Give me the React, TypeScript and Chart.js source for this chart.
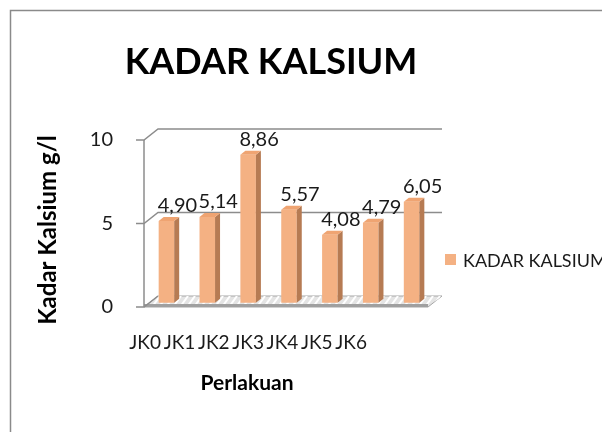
import React, { useEffect, useRef } from "react";
import { Chart, registerables } from "chart.js";

Chart.register(...registerables);

const categories = ["JK0", "JK1", "JK2", "JK3", "JK4", "JK5", "JK6"];
const kadarKalsium = [4.9, 5.14, 8.86, 5.57, 4.08, 4.79, 6.05];
const yTicks = [0, 5, 10];
const seriesName = "KADAR KALSIUM";
const chartTitle = "KADAR KALSIUM";
const xTitle = "Perlakuan";
const yTitle = "Kadar Kalsium g/l";

const FONT = "Lato, 'Open Sans', sans-serif";
const FRONT = "#F4B183";
const SIDE = "#B67B53";
const TOP = "#EFA472";
const GRID = "#8C8C8C";
const DX = 14;
const DY = -11;

const fmt = (v: number) => v.toFixed(2).replace(".", ",");

const threeD = {
  id: "threeD",
  beforeDraw(chart: any) {
    const { ctx, width, height } = chart;
    ctx.save();
    ctx.fillStyle = "#ffffff";
    ctx.fillRect(0, 0, width, height);
    ctx.strokeStyle = "#8a8a8a";
    ctx.lineWidth = 1.5;
    ctx.beginPath();
    ctx.moveTo(10.5, height);
    ctx.lineTo(10.5, 10.5);
    ctx.lineTo(width, 10.5);
    ctx.stroke();
    ctx.restore();
  },
  beforeDatasetsDraw(chart: any) {
    const { ctx, chartArea } = chart;
    const y = chart.scales.y;
    const x0 = chartArea.left - 2;
    const right = chartArea.right;
    const y0 = y.getPixelForValue(0);
    ctx.save();
    // floor
    ctx.beginPath();
    ctx.moveTo(x0, y0);
    ctx.lineTo(right - 4, y0);
    ctx.lineTo(right - 4 + DX, y0 + DY);
    ctx.lineTo(x0 + DX, y0 + DY);
    ctx.closePath();
    ctx.fillStyle = "#e4e4e4";
    ctx.fill();
    ctx.strokeStyle = "#a6a6a6";
    ctx.lineWidth = 1;
    ctx.stroke();
    ctx.save();
    ctx.clip();
    ctx.strokeStyle = "#ffffff";
    ctx.lineWidth = 2;
    for (let xx = x0 - 20; xx < right + 30; xx += 7) {
      ctx.beginPath();
      ctx.moveTo(xx, y0);
      ctx.lineTo(xx + 8, y0 + DY);
      ctx.stroke();
    }
    ctx.restore();
    ctx.fillStyle = "#a0a0a0";
    ctx.fillRect(x0, y0 - 3, right - 4 - x0, 3);
    // back wall gridlines
    ctx.strokeStyle = GRID;
    ctx.lineWidth = 1.5;
    for (const v of yTicks) {
      const py = y.getPixelForValue(v);
      ctx.beginPath();
      ctx.moveTo(x0 - 8, py);
      ctx.lineTo(x0, py);
      ctx.lineTo(x0 + DX, py + DY);
      if (v !== 0) ctx.lineTo(right + 10, py + DY);
      ctx.stroke();
    }
    ctx.beginPath();
    ctx.moveTo(x0, y.getPixelForValue(10));
    ctx.lineTo(x0, y0);
    ctx.stroke();
    ctx.restore();
  },
  afterDatasetsDraw(chart: any) {
    const { ctx } = chart;
    const meta = chart.getDatasetMeta(0);
    const data = chart.data.datasets[0].data as number[];
    ctx.save();
    meta.data.forEach((bar: any, i: number) => {
      const p = bar.getProps(["x", "y", "base", "width"], true);
      const l = p.x - p.width / 2;
      const r = p.x + p.width / 2;
      const sd = 5;
      const sh = 4;
      ctx.fillStyle = SIDE;
      ctx.beginPath();
      ctx.moveTo(r, p.y);
      ctx.lineTo(r + sd, p.y - sh);
      ctx.lineTo(r + sd, p.base - sh);
      ctx.lineTo(r, p.base);
      ctx.closePath();
      ctx.fill();
      ctx.fillStyle = TOP;
      ctx.beginPath();
      ctx.moveTo(l, p.y);
      ctx.lineTo(l + sd, p.y - sh);
      ctx.lineTo(r + sd, p.y - sh);
      ctx.lineTo(r, p.y);
      ctx.closePath();
      ctx.fill();
      ctx.fillStyle = "#1a1a1a";
      ctx.font = `20px ${FONT}`;
      ctx.textAlign = "center";
      ctx.textBaseline = "bottom";
      ctx.fillText(fmt(data[i]), p.x + 11, p.y - 5);
    });
    ctx.restore();
  },
  afterDraw(chart: any) {
    const { ctx, chartArea } = chart;
    const xs = chart.scales.x;
    ctx.save();
    ctx.fillStyle = "#000000";
    ctx.textAlign = "center";
    ctx.textBaseline = "middle";
    ctx.font = `bold 36px ${FONT}`;
    ctx.fillText(chartTitle, 271, 62);
    ctx.fillStyle = "#1a1a1a";
    ctx.font = `19px ${FONT}`;
    categories.forEach((c, i) => {
      const px = xs.getPixelForValue(i);
      const lx = chartArea.left - 18 + (px - chartArea.left) * 0.84;
      ctx.fillText(c, lx, 343);
    });
    ctx.fillStyle = "#000000";
    ctx.font = `bold 21px ${FONT}`;
    ctx.fillText(xTitle, 247, 383);
    ctx.save();
    ctx.translate(48, 230);
    ctx.rotate(-Math.PI / 2);
    ctx.font = `bold 24px ${FONT}`;
    ctx.fillText(yTitle, 0, 0);
    ctx.restore();
    ctx.fillStyle = FRONT;
    ctx.fillRect(445, 254, 11, 11);
    ctx.fillStyle = "#1a1a1a";
    ctx.font = `18px ${FONT}`;
    ctx.textAlign = "left";
    ctx.fillText(seriesName, 463, 261);
    ctx.restore();
  },
};

export default function App() {
  const ref = useRef<HTMLCanvasElement | null>(null);
  useEffect(() => {
    if (!ref.current) return;
    const chart = new Chart(ref.current, {
      type: "bar",
      data: {
        labels: categories,
        datasets: [
          {
            label: seriesName,
            data: kadarKalsium,
            backgroundColor: FRONT,
            borderWidth: 0,
            categoryPercentage: 1,
            barPercentage: 0.38,
            yAxisID: "yBar",
          },
        ],
      },
      options: {
        animation: false,
        responsive: false,
        maintainAspectRatio: false,
        layout: { padding: { left: 0, right: 170, top: 140, bottom: 0 } },
        plugins: {
          legend: { display: false },
          title: { display: false },
          tooltip: { enabled: false },
        },
        scales: {
          x: {
            type: "category",
            grid: { display: false },
            border: { display: false },
            ticks: { display: false },
            afterFit: (s: any) => {
              s.height = 432 - 307;
            },
          },
          y: {
            min: 0,
            max: 10,
            afterBuildTicks: (s: any) => {
              s.ticks = yTicks.map((v) => ({ value: v }));
            },
            grid: { display: false },
            border: { display: false },
            ticks: {
              padding: 25,
              color: "#1a1a1a",
              font: { family: FONT, size: 20 },
            },
            afterFit: (s: any) => {
              s.width = 146;
            },
          },
          yBar: {
            display: false,
            min: -0.25,
            max: 9.75,
          },
        },
      },
      plugins: [threeD],
    });
    return () => chart.destroy();
  }, []);
  return (
    <div style={{ position: "fixed", left: 0, top: 0, width: 602, height: 432 }}>
      <canvas ref={ref} width={602} height={432} style={{ width: 602, height: 432 }} />
    </div>
  );
}
